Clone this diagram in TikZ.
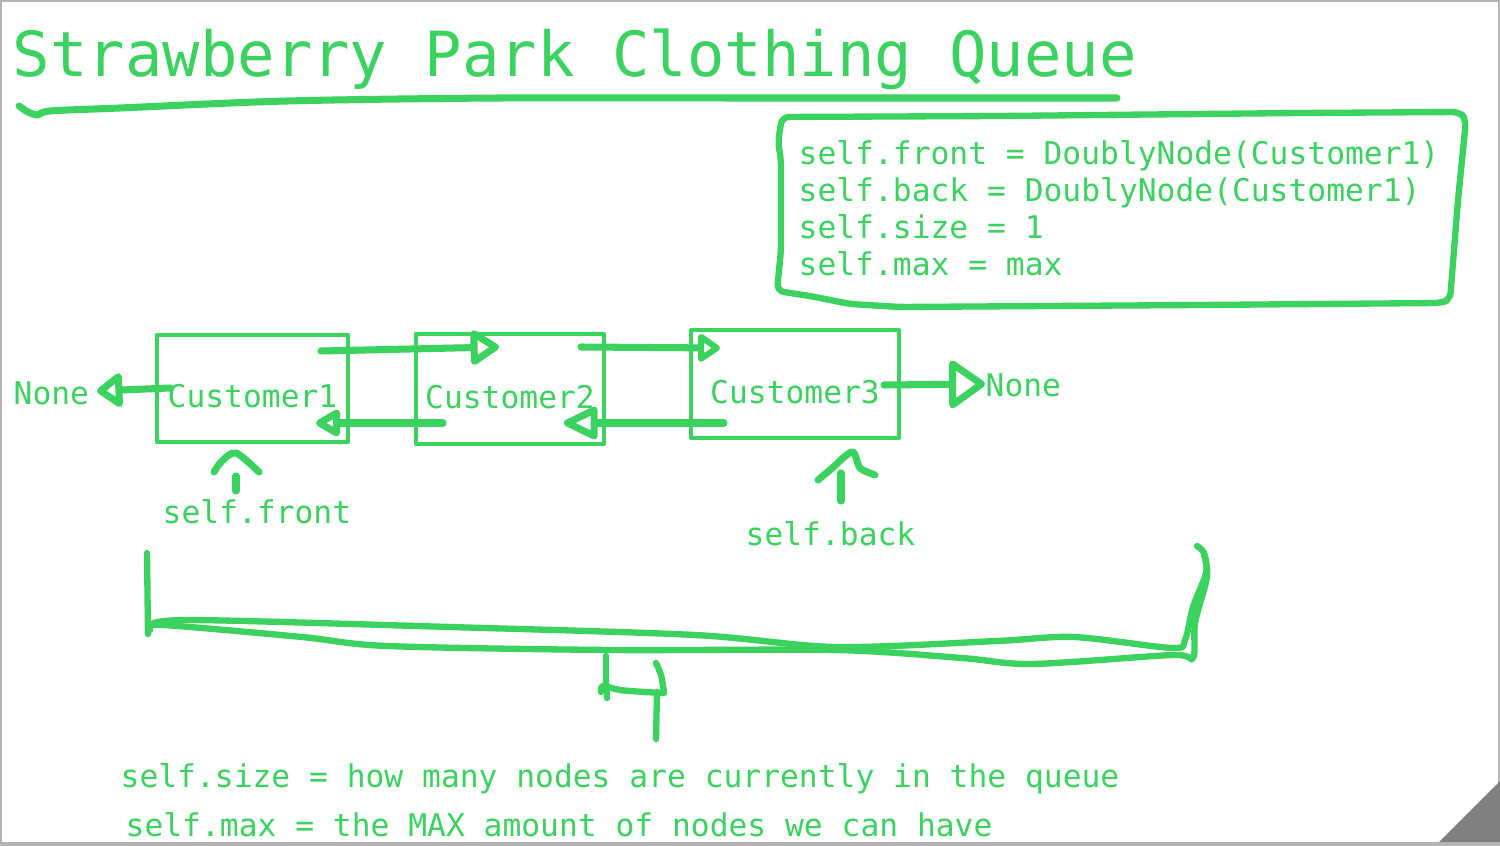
\documentclass[tikz,border=0pt]{standalone}
\usepackage{fontspec}
\setmonofont{DejaVu Sans Mono}
\usetikzlibrary{arrows.meta, positioning}
\definecolor{penGreen}{RGB}{60,210,95}
\definecolor{frameGray}{RGB}{180,180,180}
\definecolor{curlGray}{RGB}{128,128,128}

\begin{document}
\begin{tikzpicture}[x=0.01cm, y=-0.01cm,
    every node/.style={text=penGreen, font=\ttfamily\fontsize{8.9}{10}\selectfont, inner sep=0pt},
    words/.style={anchor=base west},
    qbox/.style={draw=penGreen, line width=1.3pt, line join=round, rectangle,
      text height=0.38cm, text depth=0pt},
    pen/.style={draw=penGreen, line width=2pt, line cap=round, line join=round},
    link/.style 2 args={pen, -{Triangle[open, round, length=#1, width=#2]}}]
    % page
    \useasboundingbox (0,0) rectangle (1500,846);
    \fill[white] (0,0) rectangle (1500,846);
    \draw[frameGray, line width=0.6pt] (1,1) rectangle (1499,845);

    % title
    \node[words, font=\ttfamily\fontsize{17.7}{20}\selectfont] (title) at (12,77) {Strawberry Park Clothing Queue};
    \draw[pen] plot[smooth, tension=0.5] coordinates {(19,106) (28,112) (38,115) (50,111) (120,108) (287,101) (500,98) (750,98) (1117,98)};

    % attribute box
    \draw[pen, line width=1.8pt, rounded corners=2pt] (777,291) -- (781,250) -- (781,160) -- (778,142) -- (782,117)
      -- (1000,116) -- (1300,113) -- (1460,112) -- (1466,120) -- (1458,200) -- (1450,300) -- (1440,303)
      -- (1200,305) -- (900,307) -- (850,304) -- (810,296) -- cycle;
    \node[words] (front) at (798,165) {self.front = DoublyNode(Customer1)};
    \node[words] (back)  at (798,202) {self.back = DoublyNode(Customer1)};
    \node[words] (size)  at (798,239) {self.size = 1};
    \node[words] (max)   at (798,276) {self.max = max};

    % queue nodes
    \node[qbox, minimum width=1.91cm, minimum height=1.07cm] (c1) at (252.5,388.5) {Customer1};
    \node[qbox, minimum width=1.88cm, minimum height=1.10cm] (c2) at (510,389) {Customer2};
    \node[qbox, minimum width=2.08cm, minimum height=1.08cm] (c3) at (795,384) {Customer3};
    \node[words] (nullL) at (13,405) {None};
    \node[words] (nullR) at (985,397) {None};

    % links
    \coordinate (f12a) at (321,351);  \coordinate (f12b) at (499,347);
    \coordinate (b21a) at (443,423);  \coordinate (b21b) at (316,423);
    \coordinate (f23a) at (581,347);  \coordinate (f23b) at (720,348);
    \coordinate (b32a) at (724,423);  \coordinate (b32b) at (564,423);
    \coordinate (n1a)  at (170,388);  \coordinate (n1b)  at (97,391);
    \coordinate (n3a)  at (884,385);  \coordinate (n3b)  at (985,384);
    \draw[link={9pt}{11pt}] (f12a) -- (f12b);
    \draw[link={8pt}{8.5pt}] (b21a) -- (b21b);
    \draw[link={7pt}{9pt}] (f23a) -- (f23b);
    \draw[link={11pt}{10pt}] (b32a) -- (b32b);
    \draw[link={8pt}{11pt}] (n1a) -- (n1b);
    \draw[link={11pt}{15pt}] (n3a) -- (n3b);

    % pointers
    \node[words] (fptr) at (162,523) {self.front};
    \node[words] (bptr) at (745,545) {self.back};
    \coordinate (fstemA) at (236,491);  \coordinate (fstemB) at (236,476);
    \coordinate (bstemA) at (841,501);  \coordinate (bstemB) at (841,473);
    \draw[pen] (fstemA) -- (fstemB);
    \draw[pen] plot[smooth] coordinates {(214,472) (222,461) (236,453) (259,472)};
    \draw[pen] (bstemA) -- (bstemB);
    \draw[pen] plot[smooth] coordinates {(818,480) (830,470) (852,452) (860,468) (875,475)};

    % bracket
    \draw[pen, line width=1.8pt] (147,553) -- (148,634);
    \draw[pen, line width=1.8pt] plot[smooth] coordinates {(150,626) (190,620) (450,627) (695,635) (836,647) (997,641) (1074,637) (1172,648) (1185,640) (1193,607) (1206,573) (1204,553) (1197,546)};
    \draw[pen, line width=1.8pt] plot[smooth] coordinates {(150,630) (162,625) (302,637) (387,646) (611,650) (836,650) (962,658) (1032,664) (1172,655) (1193,658) (1195,623) (1207,577) (1204,555)};

    % the 4
    \draw[pen, line width=1.8pt] plot[smooth] coordinates {(606,656) (606,680) (607,698)};
    \draw[pen, line width=1.8pt] plot[smooth] coordinates {(601,692) (603,686) (620,690) (645,692) (664,693)};
    \draw[pen, line width=1.8pt] plot[smooth] coordinates {(656,663) (661,675) (664,692)};
    \draw[pen, line width=1.8pt] (657,692) -- (656,739);

    % notes
    \node[words] (sizeNote) at (120,787) {self.size = how many nodes are currently in the queue};
    \node[words] (maxNote)  at (125,836) {self.max = the MAX amount of nodes we can have};

    % page edge and curl
    \fill[frameGray] (0,842) rectangle (1500,846);
    \fill[curlGray] (1439,842) -- (1500,781) -- (1500,842) -- cycle;
\end{tikzpicture}
\end{document}
